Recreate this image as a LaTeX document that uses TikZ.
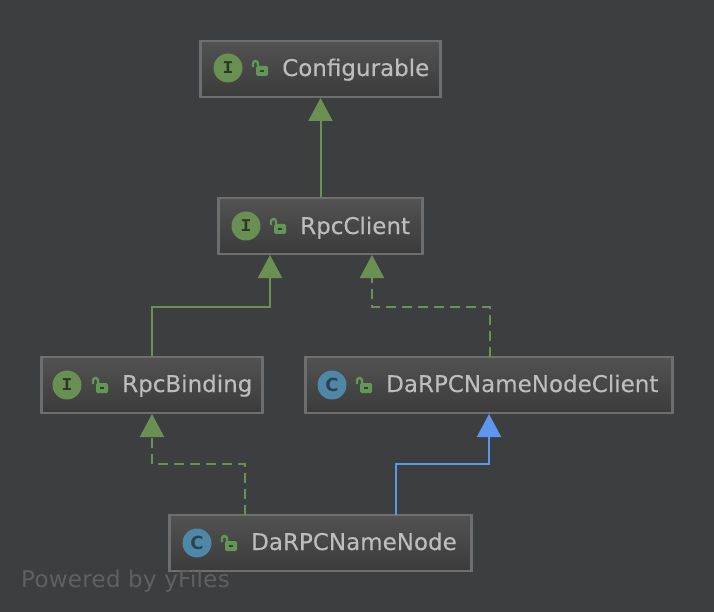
\documentclass[tikz,border=0pt]{standalone}
\usepackage{fontspec}
\setmainfont[FakeBold=0.15]{DejaVu Sans}
\newfontfamily\badgeI{Liberation Mono}
\newfontfamily\badgeC{DejaVu Sans}
\newfontfamily\poweredfont[LetterSpace=1.2]{DejaVu Sans}
\usetikzlibrary{arrows.meta,shadings,calc}
\definecolor{bg}{HTML}{3D3E40}
\definecolor{edgebox}{HTML}{6E6E6E}
\definecolor{boxtop}{HTML}{525252}
\definecolor{boxbot}{HTML}{3B3B3B}
\definecolor{labeltxt}{HTML}{BDBDBD}
\definecolor{igreen}{HTML}{6A8F53}
\definecolor{cblue}{HTML}{4F87A6}
\definecolor{arrowgreen}{HTML}{6A9153}
\definecolor{arrowblue}{HTML}{5C96EE}
\definecolor{lockgreen}{HTML}{629755}
\definecolor{powered}{HTML}{5E6062}
\tikzset{
  x=1pt,y=-1pt,
  umlbox/.style={draw=edgebox,line width=2.4pt,top color=boxtop,bottom color=boxbot,minimum height=56pt,inner sep=0pt,outer sep=1pt},
  badge/.style={circle,minimum size=29pt,inner sep=0pt},
  ibadge/.style={badge,fill=igreen,text=black!60!igreen,font=\fontsize{18}{18}\badgeI\bfseries},
  cbadge/.style={badge,fill=cblue,text=black!50!cblue,font=\fontsize{18}{18}\badgeC\bfseries},
  cname/.style={anchor=base west,inner sep=0pt,text=labeltxt,font=\fontsize{23}{24}\selectfont},
  inherit/.style={line width=2pt,draw=#1,-{Triangle[width=24pt,length=23pt,fill=#1]}},
  realize/.style={inherit=#1,dash pattern=on 10pt off 6pt},
  lockbody/.style={fill=lockgreen,rounded corners=1.5pt},
  lockshackle/.style={draw=lockgreen,line width=2.4pt}
}
\newcommand{\lockat}[2]{%
  \fill[lockbody] (#1-4,#2-1) rectangle (#1+8,#2+9);
  \fill[boxbot] (#1,#2+3) rectangle (#1+4,#2+5);
  \draw[lockshackle] (#1-7,#2) -- (#1-7,#2-3.5) arc[start angle=180,end angle=360,radius=2.5] -- (#1-2,#2);
}
\begin{document}
\begin{tikzpicture}
\fill[bg] (0,0) rectangle (714,612);
\useasboundingbox (0,0) rectangle (714,612);

\node[umlbox,minimum width=240pt] (conf) at (320.5,69) {};
\node[umlbox,minimum width=204pt] (rpc) at (320.5,226) {};
\node[umlbox,minimum width=221pt] (bind) at (152,385) {};
\node[umlbox,minimum width=367pt] (cli) at (489,385) {};
\node[umlbox,minimum width=302pt] (nn) at (320.5,543) {};

\node[ibadge] (iconf) at (228,68) {I};
\lockat{260}{67}
\node[cname] (lconf) at (282,76) {Configurable};

\node[ibadge] (irpc) at (246,226) {I};
\lockat{278}{225}
\node[cname] (lrpc) at (300,234) {RpcClient};

\node[ibadge] (ibind) at (67,385) {I};
\lockat{100}{384}
\node[cname] (lbind) at (122,392) {RpcBinding};

\node[cbadge] (icli) at (332,385) {C};
\lockat{364}{384}
\node[cname] (lcli) at (386,392) {DaRPCNameNodeClient};

\node[cbadge] (inn) at (197,543) {C};
\lockat{229}{542}
\node[cname] (lnn) at (251,550) {DaRPCNameNode};

\node[anchor=base west,inner sep=0pt,text=powered,font=\fontsize{23}{24}\poweredfont] (pw) at (21,587) {Powered by yFiles};

\coordinate (bindTop) at (bind.north);
\coordinate (rpcL) at (270,255);
\coordinate (rpcR) at (372,255);
\coordinate (cliTop) at (490,357);
\coordinate (nnL) at (245,515);
\coordinate (nnR) at (396,515);

\draw[inherit=arrowgreen] (rpc.north) -- (conf.south);
\draw[inherit=arrowgreen] (bindTop) -- (152,307) -- (270,307) -- (rpcL);
\draw[realize=arrowgreen] (cliTop) -- (490,307) -- (372,307) -- (rpcR);
\draw[realize=arrowgreen] (nnL) -- (245,464) -- (152,464) -- (bind.south);
\draw[inherit=arrowblue] (nnR) -- (396,464) -- (489,464) -- (489,414);
\end{tikzpicture}
\end{document}
